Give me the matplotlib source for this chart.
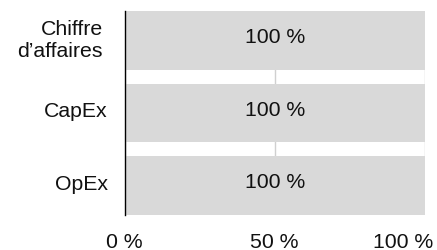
import matplotlib
matplotlib.use("Agg")
import matplotlib.pyplot as plt
from matplotlib.transforms import ScaledTranslation

categories = ["Chiffre\nd’affaires", "CapEx", "OpEx"]
values = [100, 100, 100]
tick_values = [0, 50, 100]
tick_labels = ["0 %", "50 %", "100 %"]

plt.rcParams["font.family"] = ["Liberation Sans", "DejaVu Sans"]
plt.rcParams["font.size"] = 15.3

fig = plt.figure(figsize=(4.37, 2.51), dpi=100)
ax = fig.add_axes([124.5 / 437, 35 / 251, 300.5 / 437, 204 / 251])

pos = list(range(len(categories)))[::-1]
ax.barh(pos, values, height=0.81, color="#d9d9d9", zorder=2)
for p, v in zip(pos, values):
    ax.text(50, p + 0.055, f"{v} %", ha="center", va="center", color="#111111", zorder=3)

ax.set_xlim(0, 100)
ax.set_ylim(-0.405, 2.405)
ax.set_yticks(pos)
ax.set_yticklabels(categories, ha="right", multialignment="right", color="#111111")
ax.set_xticks(tick_values)
ax.set_xticklabels(tick_labels, color="#111111")
ax.tick_params(axis="y", length=0, pad=12)
ax.tick_params(axis="x", length=0, pad=12)
ax.grid(axis="x", color="#d0d0d0", linewidth=1, zorder=1)
for s in ["top", "right", "bottom"]:
    ax.spines[s].set_visible(False)
ax.spines["left"].set_linewidth(1)
ax.spines["left"].set_zorder(4)

for lab in ax.get_yticklabels():
    dx = -5 if "\n" in lab.get_text() else 0
    lab.set_transform(lab.get_transform() + ScaledTranslation(dx / 100, 4 / 100, fig.dpi_scale_trans))
last = ax.get_xticklabels()[-1]
last.set_horizontalalignment("right")
last.set_transform(last.get_transform() + ScaledTranslation(8 / 100, 0, fig.dpi_scale_trans))

fig.savefig("out.png", dpi=100)
